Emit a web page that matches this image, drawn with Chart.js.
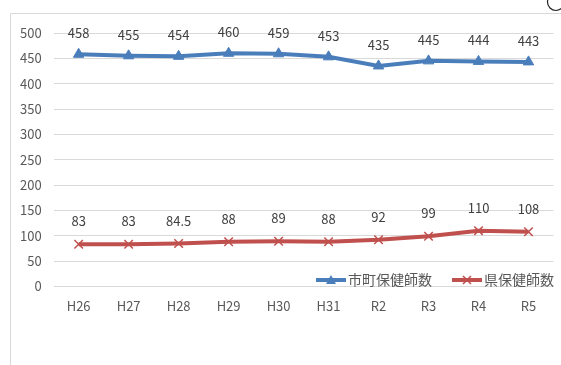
<!DOCTYPE html>
<html>
<head>
<meta charset="utf-8">
<script src="https://cdn.jsdelivr.net/npm/chart.js@4"></script>
<style>
  html, body { margin: 0; padding: 0; background: #fff; }
  #wrap { position: relative; width: 561px; height: 365px; }
</style>
</head>
<body>
<div id="wrap"><canvas id="chart" width="561" height="365"></canvas></div>
<script>
// data
var labels = ['H26', 'H27', 'H28', 'H29', 'H30', 'H31', 'R2', 'R3', 'R4', 'R5'];
var cityNurses = [458, 455, 454, 460, 459, 453, 435, 445, 444, 443];
var prefNurses = [83, 83, 84.5, 88, 89, 88, 92, 99, 110, 108];
var seriesNames = ['市町保健師数', '県保健師数'];
var yTicks = [0, 50, 100, 150, 200, 250, 300, 350, 400, 450, 500];

var FONT = '"Noto Sans CJK JP", "Noto Sans", sans-serif';
var BLUE = '#4a7ebb';
var RED = '#c0504d';

// frame + little circle at top right
var framePlugin = {
    id: 'frame',
    beforeDraw: function(chart) {
        var c = chart.ctx;
        c.save();
        c.strokeStyle = '#d9d9d9';
        c.lineWidth = 1;
        c.beginPath();
        c.moveTo(10.5, 365);
        c.lineTo(10.5, 13.5);
        c.lineTo(561, 13.5);
        c.stroke();
        c.strokeStyle = '#222';
        c.lineWidth = 1.2;
        c.beginPath();
        c.arc(556, 2, 8.5, 0, Math.PI * 2);
        c.stroke();
        c.restore();
    }
};

// value labels above every point
var valueLabels = {
    id: 'valueLabels',
    afterDatasetsDraw: function(chart) {
        var c = chart.ctx;
        c.save();
        c.font = '13px ' + FONT;
        c.fillStyle = '#404040';
        c.textAlign = 'center';
        c.textBaseline = 'middle';
        var offsets = [21, 23];
        chart.data.datasets.forEach(function(ds, i) {
            var meta = chart.getDatasetMeta(i);
            meta.data.forEach(function(pt, j) {
                c.fillText(String(ds.data[j]), pt.x, pt.y - offsets[i]);
            });
        });
        c.restore();
    }
};

// legend drawn inside the plot area, bottom right
var innerLegend = {
    id: 'innerLegend',
    afterDraw: function(chart) {
        var c = chart.ctx;
        var spots = [316, 452];
        var y = 280;
        c.save();
        c.font = '14px ' + FONT;
        c.textBaseline = 'middle';
        c.textAlign = 'left';
        chart.data.datasets.forEach(function(ds, i) {
            var x = spots[i];
            c.strokeStyle = ds.borderColor;
            c.lineWidth = 4;
            c.beginPath();
            c.moveTo(x, y);
            c.lineTo(x + 30, y);
            c.stroke();
            var mx = x + 15;
            if (ds.pointStyle === 'triangle') {
                c.fillStyle = ds.borderColor;
                c.beginPath();
                c.moveTo(mx, y - 5);
                c.lineTo(mx + 5, y + 4);
                c.lineTo(mx - 5, y + 4);
                c.closePath();
                c.fill();
            } else {
                c.lineWidth = 1.5;
                c.beginPath();
                c.moveTo(mx - 4, y - 4); c.lineTo(mx + 4, y + 4);
                c.moveTo(mx + 4, y - 4); c.lineTo(mx - 4, y + 4);
                c.stroke();
            }
            c.fillStyle = '#595959';
            c.fillText(ds.label, x + 32, y);
        });
        c.restore();
    }
};

new Chart(document.getElementById('chart'), {
    type: 'line',
    data: {
        labels: labels,
        datasets: [{
            label: seriesNames[0],
            data: cityNurses,
            borderColor: BLUE,
            backgroundColor: BLUE,
            borderWidth: 4,
            pointStyle: 'triangle',
            pointRadius: 6,
            pointBorderWidth: 1,
            tension: 0
        }, {
            label: seriesNames[1],
            data: prefNurses,
            borderColor: RED,
            backgroundColor: RED,
            borderWidth: 4,
            pointStyle: 'crossRot',
            pointRadius: 6,
            pointBorderWidth: 1.5,
            tension: 0
        }]
    },
    options: {
        responsive: false,
        animation: false,
        layout: { padding: { left: 8, right: 4, top: 33, bottom: 47 } },
        scales: {
            x: {
                offset: true,
                grid: { display: false },
                border: { display: false },
                ticks: { color: '#595959', font: { family: FONT, size: 13 }, padding: 4, maxRotation: 0 }
            },
            y: {
                min: 0,
                max: 500,
                afterBuildTicks: function(axis) {
                    axis.ticks = yTicks.map(function(v) { return { value: v }; });
                },
                grid: { color: '#d9d9d9', lineWidth: 1, drawTicks: false },
                border: { display: false },
                ticks: { color: '#595959', font: { family: FONT, size: 13 }, padding: 12 }
            }
        },
        plugins: {
            legend: { display: false },
            tooltip: { enabled: false }
        }
    },
    plugins: [framePlugin, valueLabels, innerLegend]
});
</script>
</body>
</html>
